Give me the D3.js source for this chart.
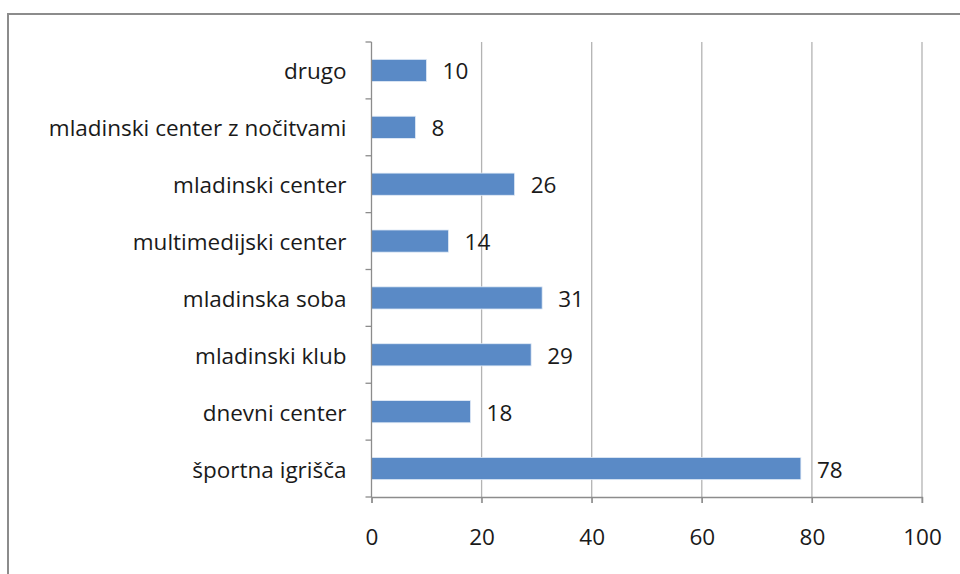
<!DOCTYPE html>
<html>
<head>
  <meta charset="utf-8">
  <title>Prostori</title>
  <script src="https://cdn.jsdelivr.net/npm/d3@7"></script>
  <style>
    body { margin: 0; background: #fff; }
    text { font-family: "Open Sans", Lato, sans-serif; fill: #1a1a1a; }
  </style>
</head>
<body>
  <script>
    // podatki
    var kategorije = ["drugo", "mladinski center z nočitvami", "mladinski center",
      "multimedijski center", "mladinska soba", "mladinski klub",
      "dnevni center", "športna igrišča"];
    var vrednosti = [10, 8, 26, 14, 31, 29, 18, 78];
    var osTicki = [0, 20, 40, 60, 80, 100];

    var sirina = 960, visina = 574;
    var levo = 371.5, desno = 922, zgoraj = 42, spodaj = 497;
    var pisava = "22.5px";

    var svg = d3.select("body").append("svg")
      .attr("width", sirina)
      .attr("height", visina);

    // okvir
    svg.append("rect")
      .attr("x", 8).attr("y", 14)
      .attr("width", 1000).attr("height", 600)
      .attr("fill", "none")
      .attr("stroke", "#8c8c8c")
      .attr("stroke-width", 2);

    var x = d3.scaleLinear().domain([0, 100]).range([levo, desno]);
    var y = d3.scaleBand().domain(kategorije).range([zgoraj, spodaj]).paddingInner(0.61).paddingOuter(0.305);
    var yRob = d3.scaleBand().domain(kategorije).range([zgoraj, spodaj]);

    // mrezne crte
    svg.selectAll("line.mreza")
      .data(osTicki.slice(1))
      .enter().append("line")
      .attr("class", "mreza")
      .attr("x1", function(d) { return x(d); })
      .attr("x2", function(d) { return x(d); })
      .attr("y1", zgoraj).attr("y2", spodaj + 6)
      .attr("stroke", "#b3b3b3")
      .attr("stroke-width", 1.3);

    // stolpci
    svg.selectAll("rect.stolpec")
      .data(vrednosti)
      .enter().append("rect")
      .attr("class", "stolpec")
      .attr("x", x(0))
      .attr("y", function(d, i) { return y(kategorije[i]); })
      .attr("width", function(d) { return x(d) - x(0); })
      .attr("height", y.bandwidth())
      .attr("fill", "#5a8ac6")
      .attr("stroke", "#e3ecf7")
      .attr("stroke-width", 0.8);

    // vrednosti
    svg.selectAll("text.vrednost")
      .data(vrednosti)
      .enter().append("text")
      .attr("class", "vrednost")
      .attr("x", function(d) { return x(d) + 16; })
      .attr("y", function(d, i) { return y(kategorije[i]) + y.bandwidth() / 2; })
      .attr("dy", "0.4em")
      .style("font-size", pisava)
      .text(function(d) { return d; });

    // os x
    var osX = d3.axisBottom(x).tickValues(osTicki).tickSize(6).tickPadding(26);
    var gx = svg.append("g").attr("transform", "translate(0," + spodaj + ")").call(osX);
    gx.select(".domain").attr("stroke", "#8c8c8c").attr("stroke-width", 1.3);
    gx.selectAll(".tick line").attr("stroke", "#8c8c8c").attr("stroke-width", 1.3);
    gx.selectAll(".tick text").style("font-size", pisava).style("font-family", "'Open Sans', Lato, sans-serif").attr("fill", "#1a1a1a");

    // os y
    var gy = svg.append("g").attr("transform", "translate(" + levo + ",0)");
    gy.append("line")
      .attr("y1", zgoraj).attr("y2", spodaj)
      .attr("stroke", "#8c8c8c").attr("stroke-width", 1.3);
    gy.selectAll("line.rob")
      .data(kategorije.concat(["konec"]))
      .enter().append("line")
      .attr("class", "rob")
      .attr("x1", -6).attr("x2", 0)
      .attr("y1", function(d, i) { return i < kategorije.length ? yRob(d) : spodaj; })
      .attr("y2", function(d, i) { return i < kategorije.length ? yRob(d) : spodaj; })
      .attr("stroke", "#8c8c8c").attr("stroke-width", 1.3);
    gy.selectAll("text.kat")
      .data(kategorije)
      .enter().append("text")
      .attr("class", "kat")
      .attr("x", -25)
      .attr("y", function(d) { return yRob(d) + yRob.bandwidth() / 2; })
      .attr("dy", "0.4em")
      .attr("text-anchor", "end")
      .style("font-size", pisava)
      .text(function(d) { return d; });
  </script>
</body>
</html>
